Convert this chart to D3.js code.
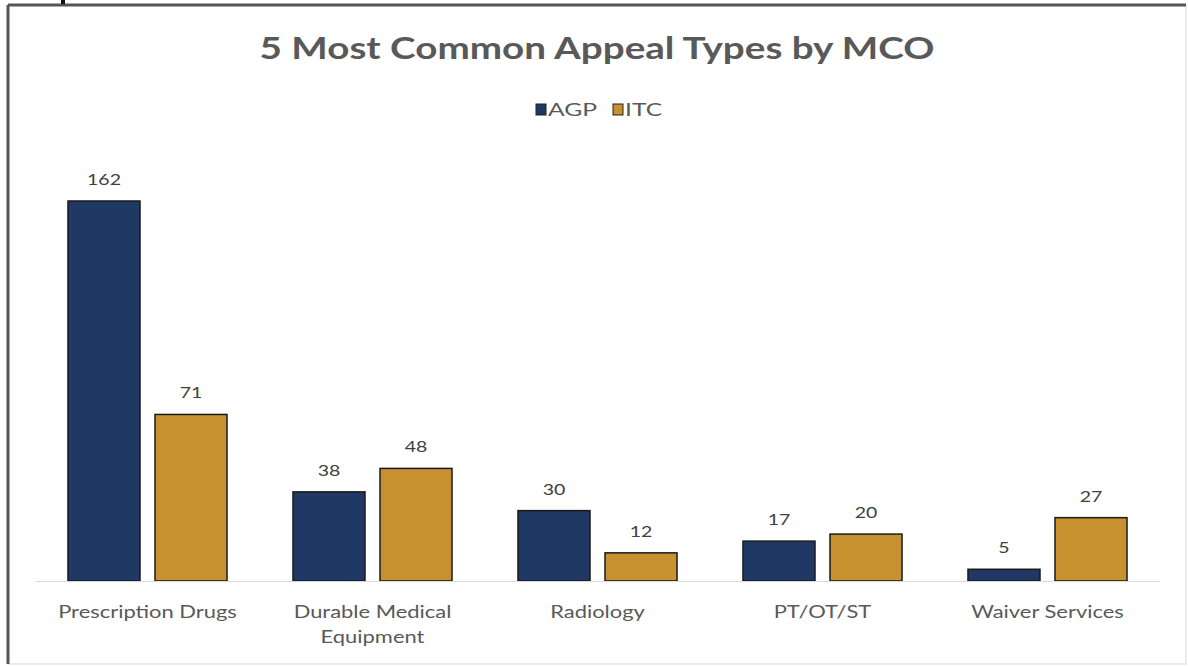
<!DOCTYPE html>
<html><head><meta charset="utf-8">
<script src="https://cdn.jsdelivr.net/npm/d3@7/dist/d3.min.js"></script>
<style>body{margin:0;background:#fff}svg{display:block}</style>
</head><body><svg id="c" width="1188" height="666"></svg>
<script>
const categories = ["Prescription Drugs", "Durable Medical Equipment", "Radiology", "PT/OT/ST", "Waiver Services"];
const categoryLines = [["Prescription Drugs"], ["Durable Medical", "Equipment"], ["Radiology"], ["PT/OT/ST"], ["Waiver Services"]];
const seriesNames = ["AGP", "ITC"];
const agpValues = [162, 38, 30, 17, 5];
const itcValues = [71, 48, 12, 20, 27];
const colors = ["#1f3864", "#c8912f"];

const svg = d3.select("#c");
const font = "Lato, 'Open Sans', sans-serif";
const SX = 1.27;

function stext(parent, x, yv, str, size, opts = {}) {
  const gg = parent.append("g").attr("transform", `translate(${x},${yv}) scale(${opts.sx || SX},1)`);
  const t = gg.append("text").attr("x", 0).attr("y", 0)
    .attr("text-anchor", opts.anchor || "middle").attr("font-family", font)
    .attr("font-size", size).attr("fill", opts.fill || "#595959")
    .attr("font-weight", opts.weight || "normal").text(str);
  return t;
}

// frame
svg.append("rect").attr("x", 8).attr("y", 5).attr("width", 1178).attr("height", 659)
  .attr("fill", "#fff").attr("stroke", "#d9d9d9").attr("stroke-width", 1);
svg.append("line").attr("x1", 8).attr("x2", 1186).attr("y1", 5).attr("y2", 5).attr("stroke", "#555").attr("stroke-width", 3);
svg.append("line").attr("x1", 8).attr("x2", 8).attr("y1", 5).attr("y2", 664).attr("stroke", "#555").attr("stroke-width", 3);
svg.append("rect").attr("x", 61).attr("y", 0).attr("width", 4).attr("height", 4).attr("fill", "#111");

const x0 = d3.scaleBand().domain(categories).range([35, 1160]).paddingInner(0).paddingOuter(0);
const x1 = d3.scaleBand().domain(seriesNames).range([0, x0.bandwidth()]).paddingInner(0.1724).paddingOuter(0.379);
const y = d3.scaleLinear().domain([0, 162]).range([581, 201]);

const data = categories.map((c, i) => ({c, vals: [agpValues[i], itcValues[i]]}));

// title
stext(svg, 597, 59, "5 Most Common Appeal Types by MCO", 31, {weight: "bold", sx: 1.245});

// legend
const legendItems = [{n: "AGP", x: 536}, {n: "ITC", x: 613}];
legendItems.forEach((d, i) => {
  svg.append("rect").attr("x", d.x).attr("y", 104).attr("width", 10).attr("height", 11)
    .attr("fill", colors[i]).attr("stroke", "#222").attr("stroke-width", 1);
  stext(svg, d.x + 12, 116, d.n, 17, {anchor: "start", sx: 1.45});
});

// bars
const g = svg.append("g");
const groups = g.selectAll("g.grp").data(data).enter().append("g")
  .attr("transform", d => `translate(${x0(d.c)},0)`);
groups.selectAll("rect").data(d => d.vals.map((v, i) => ({v, s: seriesNames[i], i})))
  .enter().append("rect")
  .attr("x", d => x1(d.s)).attr("width", x1.bandwidth())
  .attr("y", d => y(d.v)).attr("height", d => y(0) - y(d.v))
  .attr("fill", d => colors[d.i]).attr("stroke", "#1a1a1a").attr("stroke-width", 1.5);
groups.each(function(d) {
  const gg = d3.select(this);
  d.vals.forEach((v, i) => {
    stext(gg, x1(seriesNames[i]) + x1.bandwidth() / 2, y(v) - 16, v, 16, {fill: "#404040", sx: 1.22});
  });
});

// axis
const axis = d3.axisBottom(x0).tickSize(6).tickSizeOuter(0).tickFormat("");
const ax = svg.append("g").attr("transform", "translate(0,581)").call(axis);
ax.select(".domain").attr("stroke", "#d9d9d9");
ax.selectAll(".tick line").remove();
categories.forEach((c, i) => {
  categoryLines[i].forEach((l, j) => stext(svg, x0(c) + x0.bandwidth() / 2, 618 + j * 25, l, 17, {sx: 1.29}));
});
</script></body></html>
